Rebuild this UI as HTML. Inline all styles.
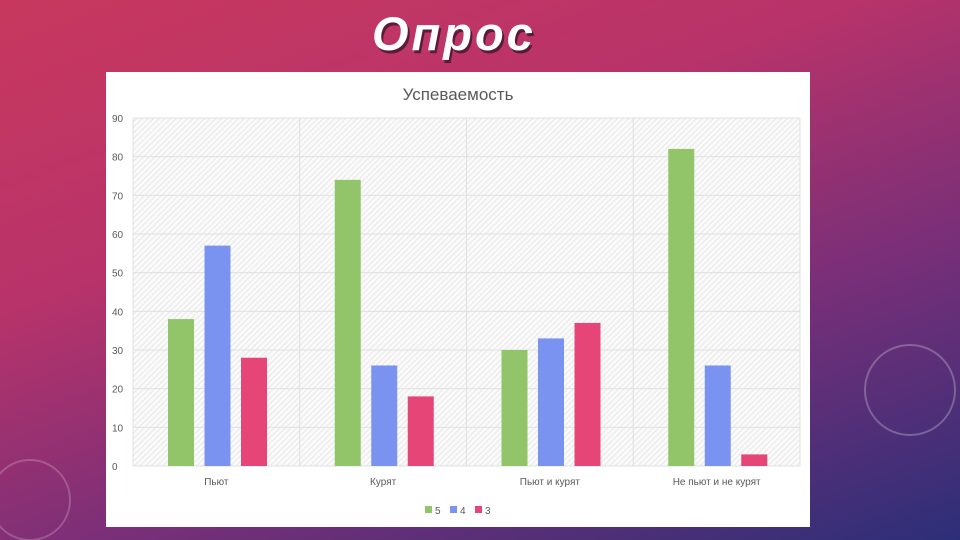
<!DOCTYPE html>
<html><head><meta charset="utf-8"><style>
html,body{margin:0;padding:0;width:960px;height:540px;overflow:hidden}
body{background:linear-gradient(160deg,#c8385e 0%,#b8336a 35%,#7a2f78 65%,#2c2f78 100%);font-family:"Liberation Sans","DejaVu Sans",sans-serif;position:relative}
#title{position:absolute;left:0;width:906px;top:6px;font-size:47px;font-style:italic;font-weight:bold;color:#fff;text-shadow:2px 3px 0 #5a1a3a;letter-spacing:3px}
#title span{position:absolute;left:372px}
svg{position:absolute;left:0;top:0}
</style></head><body>
<div id="title"><span>Опрос</span></div>
<svg width="960" height="540">
<defs><pattern id="hatch" width="4" height="4" patternUnits="userSpaceOnUse" patternTransform="rotate(45)"><rect width="4" height="4" fill="#fafafa"/><line x1="0" y1="0" x2="0" y2="4" stroke="#e2e2e2" stroke-width="1.5"/></pattern></defs>
<circle cx="910" cy="390" r="45" fill="none" stroke="rgba(255,255,255,0.25)" stroke-width="2"/>
<circle cx="30" cy="500" r="40" fill="none" stroke="rgba(255,255,255,0.2)" stroke-width="2"/>
<rect x="106" y="72" width="704" height="455" fill="#fff"/>
<text x="458" y="100" text-anchor="middle" font-size="17" fill="#595959">Успеваемость</text>
<rect x="133" y="118" width="667" height="348" fill="url(#hatch)"/>
<g id="grid"></g><g id="bars"></g><g id="labels"></g>
<g>
<rect x="425" y="506" width="7" height="7" fill="#92c46a"/>
<text x="435" y="514" font-size="10" fill="#595959">5</text>
<rect x="450" y="506" width="7" height="7" fill="#7b93f0"/>
<text x="460" y="514" font-size="10" fill="#595959">4</text>
<rect x="475" y="506" width="7" height="7" fill="#e64577"/>
<text x="485" y="514" font-size="10" fill="#595959">3</text>
</g>
</svg>
<script>
const categories=["Пьют","Курят","Пьют и курят","Не пьют и не курят"];
const s5=[38,74,30,82];
const s4=[57,26,33,26];
const s3=[28,18,37,3];
const yTicks=[0,10,20,30,40,50,60,70,80,90];
const colors=["#92c46a","#7b93f0","#e64577"];
const NS="http://www.w3.org/2000/svg";
const x0=133,x1=800,y0=466,y1=118,ymax=90;
const cw=(x1-x0)/categories.length;
const y=v=>y0-(v/ymax)*(y0-y1);
function mk(t,a,p){const e=document.createElementNS(NS,t);for(const k in a)e.setAttribute(k,a[k]);p.appendChild(e);return e;}
const g=document.getElementById('grid'),b=document.getElementById('bars'),l=document.getElementById('labels');
yTicks.forEach(t=>{
 const ln=mk('line',{x1:x0,x2:x1,y1:y(t),y2:y(t),stroke:'#e0e0e0','stroke-width':1},g);
 
 
 const tx=mk('text',{x:112,y:y(t)+4,'font-size':10,fill:'#595959'},l);tx.textContent=t;
 
 
});
for(let i=0;i<=categories.length;i++){
 const ln=mk('line',{x1:x0+i*cw,x2:x0+i*cw,y1:y1,y2:y0,stroke:'#e0e0e0','stroke-width':1},g);
 
 
}
const series=[s5,s4,s3],names=['5','4','3'];
categories.forEach((c,i)=>{
 series.forEach((s,j)=>{
  const r=mk('rect',{x:x0+i*cw+35+j*36.5,y:y(s[i]),width:26,height:y0-y(s[i]),fill:colors[j]},b);
  
  
 });
 const tx=mk('text',{x:x0+i*cw+cw/2,y:485,'text-anchor':'middle','font-size':10,fill:'#595959'},l);tx.textContent=c;
 
 
});
</script>
</body></html>
